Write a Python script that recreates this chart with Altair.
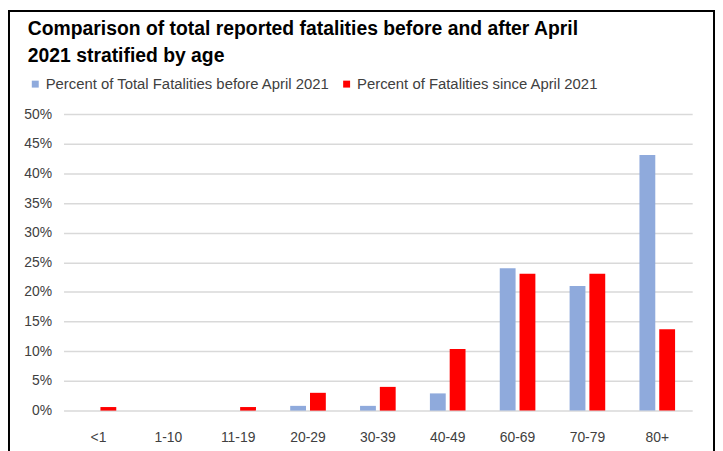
import altair as alt
import pandas as pd

ages = ["<1", "1-10", "11-19", "20-29", "30-39", "40-49", "60-69", "70-79", "80+"]
before = [0.0, 0.0, 0.0, 0.8, 0.8, 2.9, 24.0, 21.0, 43.1]
since = [0.6, 0.0, 0.6, 3.0, 4.0, 10.4, 23.1, 23.1, 13.7]
series = ["Percent of Total Fatalities before April 2021", "Percent of Fatalities since April 2021"]
colors = ["#8FAADC", "#FF0000"]
title_lines = ["Comparison of total reported fatalities before and after April", "2021 stratified by age"]

rows = []
for a, b, s in zip(ages, before, since):
    rows.append({"age": a, "series": series[0], "value": b})
    rows.append({"age": a, "series": series[1], "value": s})
df = pd.DataFrame(rows)

FONT = "Liberation Sans"
W, H = 634, 299

bars = alt.Chart(df).mark_bar().encode(
    x=alt.X("age:N", sort=ages,
            scale=alt.Scale(paddingInner=0.49, paddingOuter=0.245),
            axis=alt.Axis(title=None, labelAngle=0, ticks=False, domain=False,
                          labelFont=FONT, labelFontSize=14, labelColor="#404040",
                          labelPadding=20, grid=False)),
    xOffset=alt.XOffset("series:N", sort=series,
                        scale=alt.Scale(paddingInner=0.2, paddingOuter=0)),
    y=alt.Y("value:Q", scale=alt.Scale(domain=[0, 50], nice=False),
            axis=alt.Axis(title=None, values=list(range(0, 51, 5)),
                          labelExpr="datum.value + '%'", ticks=False, domain=False,
                          labelFont=FONT, labelFontSize=14, labelColor="#404040",
                          labelPadding=12, gridColor="#D9D9D9", gridWidth=1.5)),
    color=alt.Color("series:N", sort=series,
                    scale=alt.Scale(domain=series, range=colors),
                    legend=alt.Legend(title=None, orient="none", legendX=-36, legendY=-38,
                                      direction="horizontal", symbolType="square",
                                      symbolSize=49, symbolStrokeWidth=0,
                                      labelFont=FONT, labelFontSize=15, labelColor="#404040",
                                      labelOffset=3, columnPadding=9, labelLimit=400)),
)

frame = alt.Chart(alt.Data(values=[{"f": 1}])).mark_rect(
    filled=False, stroke="black", strokeWidth=2
).encode(
    x=alt.value(-55), x2=alt.value(656), y=alt.value(-104), y2=alt.value(370)
)

chart = alt.layer(bars, frame).properties(
    width=W, height=H, padding=0,
    title=alt.TitleParams(text=title_lines, anchor="start", frame="group", dx=-36,
                          offset=48, dy=105, font=FONT, fontSize=19.5, fontWeight="bold",
                          color="#000000", lineHeight=27),
).configure_view(stroke=None)

chart.save("out.html", embed_options={"renderer": "svg", "actions": False})
